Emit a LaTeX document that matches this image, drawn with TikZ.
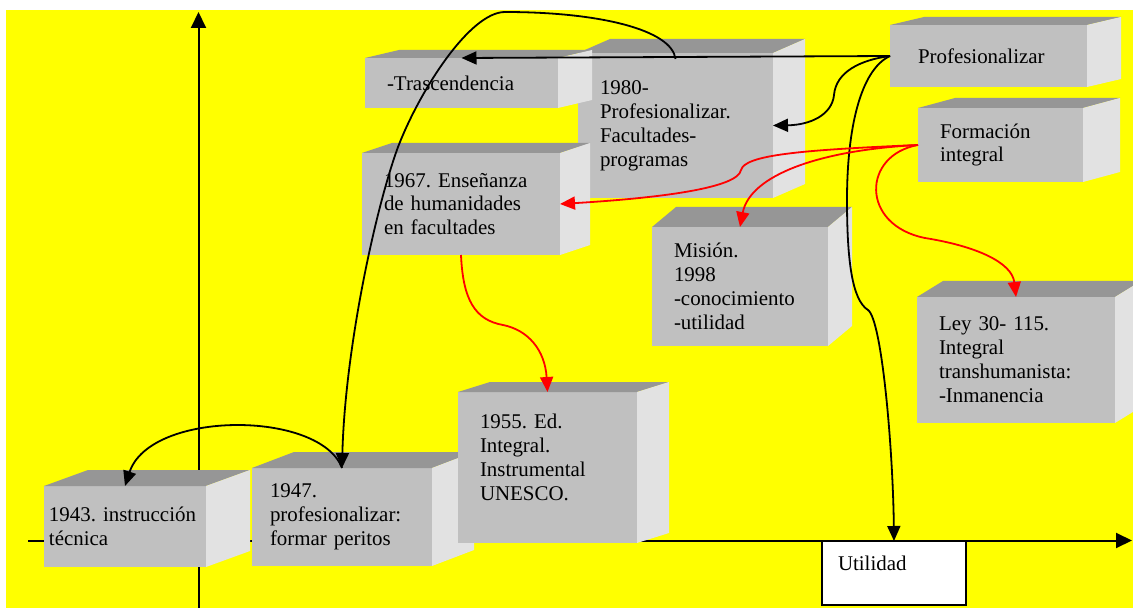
\documentclass[tikz,border=0pt]{standalone}
\usepackage{fontspec}
\setmainfont{Liberation Serif}
\usetikzlibrary{arrows.meta}
\frenchspacing
\hyphenpenalty=10000
\definecolor{amarillo}{RGB}{255,255,0}
\definecolor{grisfrente}{RGB}{192,192,192}
\definecolor{gristapa}{RGB}{150,150,150}
\definecolor{grislado}{RGB}{226,226,226}
\tikzset{
caja/.style={fill=grisfrente, inner xsep=22bp, inner ysep=0pt, outer sep=0pt, align=left, font=\fontsize{21}{24}\selectfont},
caratapa/.style={fill=gristapa},
caralado/.style={fill=grislado},
flecha/.style={draw=black, line width=1.8bp, -{Triangle[length=15bp,width=13bp]}},
roja/.style={flecha, draw=red},
eje/.style={line width=2bp, -{Triangle[length=16bp,width=15bp]}}
}
\newcommand{\relieve}[3]{%
\fill[caratapa] (#1.north west) -- ++(#2,#3) -- ([shift={(#2,#3)}]#1.north east) -- (#1.north east) -- cycle;
\fill[caralado] (#1.north east) -- ++(#2,#3) -- ([shift={(#2,#3)}]#1.south east) -- (#1.south east) -- cycle;}

\begin{document}
\begin{tikzpicture}[x=1bp,y=-1bp]
\useasboundingbox (0,0) rectangle (1133,608);
\fill[amarillo] (6,10) rectangle (1133,608);

\coordinate (ejeyA) at (198.5,608);
\coordinate (ejeyB) at (198.5,12);
\coordinate (ejexA) at (28,540.5);
\coordinate (ejexB) at (1132,540.5);
\draw[eje] (ejeyA) -- (ejeyB);
\draw[eje] (ejexA) -- (ejexB);

\node[caja, text width=151bp, minimum height=145bp] (ochenta) at (675.5,125.5) {1980-\\Profesionalizar.\\Facultades-\\programas};
\relieve{ochenta}{32}{-14}
\node[caja, text width=149bp, minimum height=50bp] (trasc) at (461.5,83) {-Trascendencia};
\relieve{trasc}{34}{-8}
\node[caja, text width=154bp, minimum height=102bp] (sesenta) at (461,204) {1967. Enseñanza\\de humanidades\\en facultades};
\relieve{sesenta}{30}{-10}
\node[caja, inner xsep=28bp, text width=141bp, minimum height=62bp] (prof) at (988.5,56) {Profesionalizar};
\relieve{prof}{34}{-8}
\node[caja, text width=121bp, minimum height=74bp] (form) at (1000.5,145) {Formación\\integral};
\relieve{form}{37}{-10}
\node[caja, text width=132bp, minimum height=119bp] (mision) at (740,286.5) {Misión.\\1998\\-conocimiento\\-utilidad};
\relieve{mision}{24}{-20}
\node[caja, text width=154bp, minimum height=126bp] (ley) at (1016,360) {Ley 30- 115.\\Integral\\transhumanista:\\-Inmanencia};
\relieve{ley}{26}{-16}
\node[caja, inner xsep=5bp, text width=152bp, minimum height=81bp] (c1943) at (125,526.5) {1943. instrucción\\técnica};
\relieve{c1943}{44}{-16}
\node[caja, inner xsep=18bp, text width=144bp, minimum height=98bp] (c1947) at (342,517) {1947.\\profesionalizar:\\formar peritos};
\relieve{c1947}{42}{-16}
\node[caja, text width=135bp, minimum height=151bp] (cincuenta) at (547.5,467.5) {1955. Ed.\\Integral.\\Instrumental\\UNESCO.\\[-4bp]\mbox{}};
\relieve{cincuenta}{32}{-10}
\node[caja, fill=white, draw=black, line width=1.5bp, inner xsep=16bp, text width=112bp, minimum height=64bp, text depth=20bp] (utilidad) at (894,573) {Utilidad};

\draw[flecha] (prof.west) -- (trasc.north);
\draw[flecha] (prof.west) .. controls (860,60) and (836,72) .. (834,95) .. controls (832,115) and (810,125) .. (ochenta.east);
\draw[flecha] (prof.west) .. controls (860,70) and (847,130) .. (847,200) .. controls (847,260) and (852,300) .. (868,310) .. controls (882,320) and (893,450) .. (utilidad.north);
\draw[flecha] ([yshift=-6bp]ochenta.north) .. controls (672,30) and (600,12) .. (505,12) .. controls (470,12) and (420,90) .. (398,147) .. controls (375,210) and (345,350) .. (c1947.north);
\draw[flecha] (c1947.north) .. controls (320,410) and (150,410) .. (c1943.north);

\draw[roja] (form.west) .. controls (800,150) and (745,155) .. (741,170) .. controls (738,188) and (660,198) .. (sesenta.east);
\draw[roja] (form.west) .. controls (820,150) and (750,175) .. (mision.north);
\draw[roja] (form.west) .. controls (862,155) and (860,225) .. (925,238) .. controls (975,246) and (1012,262) .. (ley.north);
\draw[roja] (sesenta.south) .. controls (463,300) and (475,320) .. (503,325) .. controls (528,330) and (545,350) .. (cincuenta.north);
\end{tikzpicture}
\end{document}
